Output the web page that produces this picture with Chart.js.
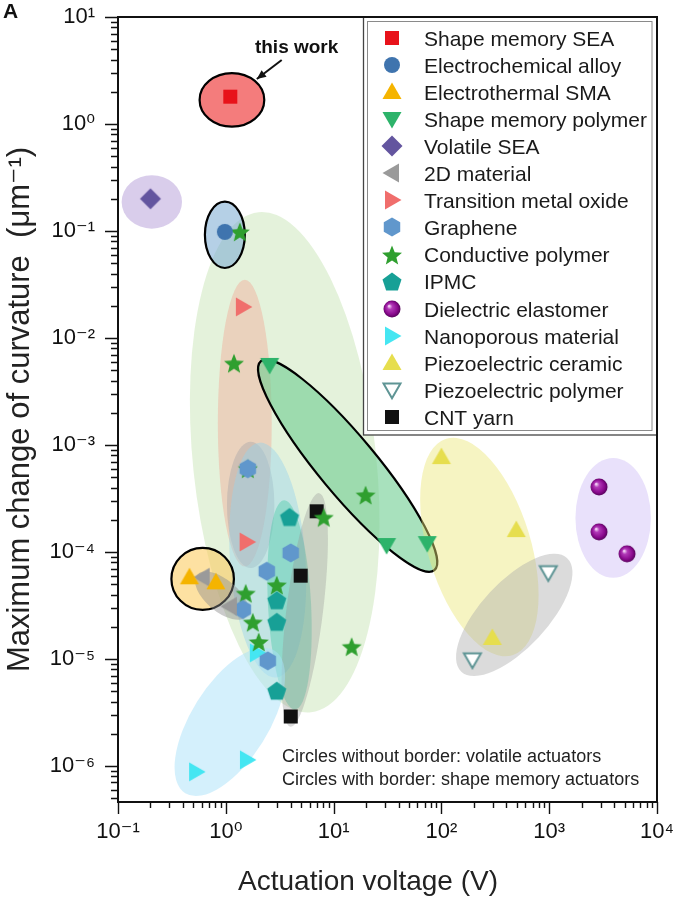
<!DOCTYPE html>
<html><head><meta charset="utf-8">
<script src="https://cdn.jsdelivr.net/npm/chart.js@4/dist/chart.umd.min.js"></script>
<style>html,body{margin:0;padding:0;background:#fff;}#wrap{width:680px;height:904px;position:relative;}</style>
</head><body><div id="wrap"><canvas id="c" width="680" height="904"></canvas></div>
<script>
// ---------- data ----------
const seriesNames = ['Shape memory SEA','Electrochemical alloy','Electrothermal SMA','Shape memory polymer','Volatile SEA','2D material','Transition metal oxide','Graphene','Conductive polymer','IPMC','Dielectric elastomer','Nanoporous material','Piezoelectric ceramic','Piezoelectric polymer','CNT yarn'];

const smSEA_x = [1.1],              smSEA_y = [1.8];
const ecAlloy_x = [0.98],           ecAlloy_y = [0.098];
const etSMA_x = [0.46, 0.81],       etSMA_y = [5.8e-5, 5.2e-5];
const smPoly_x = [2.55, 31, 74],    smPoly_y = [5.6e-3, 1.16e-4, 1.21e-4];
const volSEA_x = [0.2],             volSEA_y = [0.2];
const twoD_x = [0.61, 1.09],        twoD_y = [5.8e-5, 3.1e-5];
const tmo_x = [1.44, 1.56],         tmo_y = [0.0195, 1.24e-4];
const graphene_x = [1.6, 4.0, 2.4, 1.44, 2.45];
const graphene_y = [6.0e-4, 9.8e-5, 6.6e-5, 2.9e-5, 9.6e-6];
const condPoly_x = [1.35, 1.19, 1.6, 19.8, 8.1, 2.97, 1.53, 1.78, 2.02, 14.7];
const condPoly_y = [0.098, 5.8e-3, 6.0e-4, 3.4e-4, 2.1e-4, 4.9e-5, 4.1e-5, 2.2e-5, 1.44e-5, 1.3e-5];
const ipmc_x = [3.9, 2.97, 2.97, 2.97], ipmc_y = [2.1e-4, 3.5e-5, 2.2e-5, 5.0e-6];
const dielec_x = [2900, 2900, 5270],   dielec_y = [4.05e-4, 1.54e-4, 9.6e-5];
const nano_x = [0.53, 1.57, 1.94],     nano_y = [8.8e-7, 1.14e-6, 1.14e-5];
const pzCer_x = [100, 495, 297],       pzCer_y = [7.7e-4, 1.6e-4, 1.57e-5];
const pzPoly_x = [980, 194],           pzPoly_y = [6.4e-5, 9.8e-6];
const cnt_x = [6.96, 4.95, 4.0],       cnt_y = [2.4e-4, 6.0e-5, 2.9e-6];

const seriesX = [smSEA_x, ecAlloy_x, etSMA_x, smPoly_x, volSEA_x, twoD_x, tmo_x, graphene_x, condPoly_x, ipmc_x, dielec_x, nano_x, pzCer_x, pzPoly_x, cnt_x];
const seriesY = [smSEA_y, ecAlloy_y, etSMA_y, smPoly_y, volSEA_y, twoD_y, tmo_y, graphene_y, condPoly_y, ipmc_y, dielec_y, nano_y, pzCer_y, pzPoly_y, cnt_y];

const xTickExponents = [-1, 0, 1, 2, 3, 4];
const yTickExponents = [-6, -5, -4, -3, -2, -1, 0, 1];
const supMap = {'-':'\u207B','0':'\u2070','1':'\u00B9','2':'\u00B2','3':'\u00B3','4':'\u2074','5':'\u2075','6':'\u2076','7':'\u2077','8':'\u2078','9':'\u2079'};
const tickLabel = e => '10' + String(e).split('').map(ch => supMap[ch]).join('');

// ---------- styles ----------
const seriesShapes = ['square','circle','triangle','downTriangle','diamond','leftTriangle','rightTriangle','hexagon','star','pentagon','sphere','rightTriangle','triangle','hollowDown','square'];
const seriesColors = ['#e8121a','#3f74ae','#f5b400','#2db36a','#63559f','#9a9a9a','#f06e6c','#6097cc','#2f9f2f','#17a096','#8a0a8e','#45e6f2','#e6de4e','#5f9595','#111111'];

// shaded regions (center in data units, semi-axes in decades, screen angle in degrees)
const regions = [
  {cx:3.52, cy:6.9e-4, a:0.85, b:2.35, ang:-6,  fill:'rgba(190,225,170,0.42)', line:null},
  {cx:1.5,  cy:1.6e-3, a:0.25, b:1.34, ang:0,   fill:'rgba(240,170,150,0.45)', line:null},
  {cx:1.7,  cy:2.75e-4,a:0.22, b:0.59, ang:0,   fill:'rgba(160,160,165,0.38)', line:null},
  {cx:2.45, cy:8.4e-5, a:0.35, b:1.1,  ang:-4,  fill:'rgba(150,210,235,0.45)', line:null},
  {cx:3.9,  cy:3.2e-5, a:0.2,  b:0.98, ang:-3,  fill:'rgba(60,200,160,0.38)',  line:null},
  {cx:5.4,  cy:2.87e-5,a:0.17, b:1.1,  ang:7,   fill:'rgba(150,150,150,0.35)', line:null},
  {cx:1.09, cy:2.58e-6,a:0.78, b:0.36, ang:-58, fill:'rgba(170,225,250,0.5)',  line:null},
  {cx:13.5, cy:6.4e-4, a:1.26, b:0.27, ang:50.3,fill:'rgba(110,205,145,0.6)',  line:'#000'},
  {cx:0.61, cy:5.6e-5, a:0.29, b:0.29, ang:0,   fill:'rgba(252,205,100,0.6)',  line:'#000'},
  {cx:0.92, cy:3.9e-5, a:0.3,  b:0.15, ang:40,  fill:'rgba(140,140,140,0.45)', line:null},
  {cx:1.14, cy:1.68,   a:0.3,  b:0.25, ang:0,   fill:'rgba(240,80,80,0.75)',   line:'#000'},
  {cx:0.98, cy:0.092,  a:0.185,b:0.31, ang:0,   fill:'rgba(120,170,210,0.55)', line:'#000'},
  {cx:0.206,cy:0.187,  a:0.28, b:0.25, ang:0,   fill:'rgba(170,145,210,0.45)', line:null},
  {cx:225,  cy:1.11e-4,a:1.05, b:0.48, ang:73,  fill:'rgba(235,230,120,0.45)', line:null},
  {cx:474,  cy:2.58e-5,a:0.72, b:0.31, ang:-47, fill:'rgba(170,170,170,0.42)', line:null},
  {cx:3920, cy:2.08e-4,a:0.35, b:0.56, ang:0,   fill:'rgba(200,180,245,0.4)',  line:null}
];

const FONT = "'Liberation Sans', Arial, Helvetica, 'DejaVu Sans', sans-serif";

// ---------- marker images ----------
function polyPath(g, cx, cy, r, startDeg, n) {
  for (let k = 0; k < n; k++) {
    const t = (startDeg + k * 360 / n) * Math.PI / 180;
    const px = cx + r * Math.cos(t), py = cy + r * Math.sin(t);
    if (k === 0) g.moveTo(px, py); else g.lineTo(px, py);
  }
  g.closePath();
}
function makeMarker(shape, color) {
  const S = 26, m = S / 2;
  const c = document.createElement('canvas'); c.width = S; c.height = S;
  const g = c.getContext('2d');
  g.fillStyle = color; g.strokeStyle = color;
  g.beginPath();
  switch (shape) {
    case 'square': g.rect(m - 7, m - 7, 14, 14); g.fill(); break;
    case 'circle': g.arc(m, m, 8, 0, 2 * Math.PI); g.fill(); break;
    case 'triangle': polyPath(g, m, m + 1.5, 11, -90, 3); g.fill(); break;
    case 'downTriangle': polyPath(g, m, m - 1.5, 11, 90, 3); g.fill(); break;
    case 'leftTriangle': polyPath(g, m + 1.5, m, 11, 180, 3); g.fill(); break;
    case 'rightTriangle': polyPath(g, m - 1.5, m, 11, 0, 3); g.fill(); break;
    case 'diamond': polyPath(g, m, m, 10.5, -90, 4); g.fill(); break;
    case 'hexagon': polyPath(g, m, m, 9.5, -90, 6); g.fill(); break;
    case 'pentagon': polyPath(g, m, m + 0.5, 10, -90, 5); g.fill(); break;
    case 'star':
      for (let k = 0; k < 10; k++) {
        const r = k % 2 ? 4.6 : 10.5;
        const t = (-90 + k * 36) * Math.PI / 180;
        const px = m + r * Math.cos(t), py = m + 1 + r * Math.sin(t);
        if (k === 0) g.moveTo(px, py); else g.lineTo(px, py);
      }
      g.closePath(); g.fill(); break;
    case 'sphere': {
      const grd = g.createRadialGradient(m - 3, m - 3, 0.5, m, m, 9);
      grd.addColorStop(0, '#f4d4f6'); grd.addColorStop(0.25, '#b23ab8');
      grd.addColorStop(0.7, color); grd.addColorStop(1, '#4e0052');
      g.fillStyle = grd; g.arc(m, m, 8.5, 0, 2 * Math.PI); g.fill(); break;
    }
    case 'hollowDown':
      polyPath(g, m, m - 1.5, 9.8, 90, 3);
      g.fillStyle = '#fff'; g.fill(); g.lineWidth = 2; g.stroke(); break;
  }
  return c;
}
const markerImages = seriesShapes.map((s, i) => makeMarker(s, seriesColors[i]));

// ---------- plugins ----------
function decadePx(scale) { return Math.abs(scale.getPixelForValue(10) - scale.getPixelForValue(1)); }

const regionPlugin = {
  id: 'regions',
  beforeDatasetsDraw(chart) {
    const {ctx, chartArea: ca, scales: {x, y}} = chart;
    const dx = decadePx(x), dy = decadePx(y);
    ctx.save();
    ctx.beginPath(); ctx.rect(ca.left, ca.top, ca.right - ca.left, ca.bottom - ca.top); ctx.clip();
    regions.forEach(r => {
      const px = x.getPixelForValue(r.cx), py = y.getPixelForValue(r.cy);
      ctx.beginPath();
      ctx.ellipse(px, py, r.a * dx, r.b * dy, r.ang * Math.PI / 180, 0, 2 * Math.PI);
      ctx.fillStyle = r.fill; ctx.fill();
      if (r.line) { ctx.lineWidth = 2.2; ctx.strokeStyle = r.line; ctx.stroke(); }
    });
    ctx.restore();
  }
};

const framePlugin = {
  id: 'frame',
  afterDraw(chart) {
    const {ctx, chartArea: ca, scales: {x, y}} = chart;
    ctx.save();
    // legend box
    ctx.fillStyle = '#fff';
    ctx.fillRect(363, ca.top, ca.right - 363, 418);
    ctx.strokeStyle = '#444'; ctx.lineWidth = 1.3;
    ctx.strokeRect(363.5, ca.top, ca.right - 363.5, 418);
    ctx.strokeStyle = '#8a8a8a'; ctx.lineWidth = 1;
    ctx.strokeRect(367.5, ca.top + 4.5, ca.right - 372.5, 409);
    ctx.font = '21px ' + FONT; ctx.fillStyle = '#1a1a1a'; ctx.textAlign = 'left'; ctx.textBaseline = 'alphabetic';
    seriesNames.forEach((n, i) => {
      const cy = ca.top + 20.7 + i * 27.11;
      ctx.drawImage(markerImages[i], 392 - 13, Math.round(cy) - 13);
      ctx.fillText(n, 424, cy + 7.8);
    });
    // frame
    ctx.strokeStyle = '#111'; ctx.lineWidth = 2;
    ctx.strokeRect(ca.left, ca.top, ca.right - ca.left, ca.bottom - ca.top);
    // tick marks
    ctx.lineWidth = 1.4;
    ctx.beginPath();
    x.ticks.forEach(t => {
      const px = Math.round(x.getPixelForValue(t.value)) + 0.5;
      const len = t.major ? 12 : 6;
      ctx.moveTo(px, ca.bottom); ctx.lineTo(px, ca.bottom + len);
    });
    y.ticks.forEach(t => {
      const py = Math.round(y.getPixelForValue(t.value)) + 0.5;
      const len = t.major ? 13 : 7;
      ctx.moveTo(ca.left, py); ctx.lineTo(ca.left - len, py);
    });
    ctx.stroke();
    // annotations
    ctx.fillStyle = '#111';
    ctx.font = 'bold 21px ' + FONT; ctx.textAlign = 'left';
    ctx.fillText('A', 3, 18);
    const tx = x.getPixelForValue(4.54), ty = y.getPixelForValue(5.25);
    ctx.font = 'bold 19px ' + FONT; ctx.textAlign = 'center';
    ctx.fillText('this work', tx, ty + 6);
    const ax0 = x.getPixelForValue(3.3), ay0 = y.getPixelForValue(3.96);
    const ax1 = x.getPixelForValue(1.94), ay1 = y.getPixelForValue(2.63);
    ctx.lineWidth = 2; ctx.beginPath(); ctx.moveTo(ax0, ay0); ctx.lineTo(ax1, ay1); ctx.stroke();
    const ang = Math.atan2(ay1 - ay0, ax1 - ax0);
    ctx.beginPath();
    ctx.moveTo(ax1, ay1);
    ctx.lineTo(ax1 - 10 * Math.cos(ang - 0.42), ay1 - 10 * Math.sin(ang - 0.42));
    ctx.lineTo(ax1 - 10 * Math.cos(ang + 0.42), ay1 - 10 * Math.sin(ang + 0.42));
    ctx.closePath(); ctx.fill();
    ctx.font = '18px ' + FONT; ctx.textAlign = 'left'; ctx.fillStyle = '#222';
    ctx.fillText('Circles without border: volatile actuators', 282, ca.bottom - 40);
    ctx.fillText('Circles with border: shape memory actuators', 282, ca.bottom - 17);
    ctx.restore();
  }
};

function withMinors(scale, exps) {
  const ticks = [];
  const lo = exps[0] - 1, hi = exps[exps.length - 1];
  for (let e = lo; e <= hi; e++) {
    for (let s = 1; s <= 9; s++) {
      const v = s * Math.pow(10, e);
      if (v < scale.min * 0.999 || v > scale.max * 1.001) continue;
      ticks.push({value: v, major: s === 1, exp: e});
    }
  }
  return ticks;
}

const datasets = seriesNames.map((name, i) => ({
  label: name,
  data: seriesX[i].map((v, j) => ({x: v, y: seriesY[i][j]})),
  pointStyle: markerImages[i],
  pointRadius: 10, pointHoverRadius: 10,
  backgroundColor: seriesColors[i], borderColor: seriesColors[i],
  showLine: false
}));

new Chart(document.getElementById('c'), {
  type: 'scatter',
  data: {datasets},
  options: {
    responsive: false, animation: false, devicePixelRatio: 1,
    layout: {padding: {top: 17, right: 23, left: 0, bottom: 0}},
    plugins: {legend: {display: false}, tooltip: {enabled: false}},
    events: [],
    scales: {
      x: {
        type: 'logarithmic', position: 'bottom', min: 0.1, max: 1e4,
        afterBuildTicks: s => { s.ticks = withMinors(s, xTickExponents); },
        afterFit: s => { s.height = 102; s.paddingLeft = 0; s.paddingRight = 0; },
        grid: {display: false, drawTicks: false}, border: {display: false},
        ticks: {padding: 17, autoSkip: false, maxRotation: 0, color: '#111',
          font: {size: 22, family: FONT},
          callback: function(v, i, ts) { const t = ts[i]; return t.major ? tickLabel(t.exp) : ''; }},
        title: {display: true, text: 'Actuation voltage (V)\u00A0\u00A0\u00A0\u00A0\u00A0', color: '#222',
          font: {size: 28, family: FONT}, padding: {top: 0, bottom: 5}}
      },
      y: {
        type: 'logarithmic', position: 'left', min: 4.6e-7, max: 10,
        afterBuildTicks: s => { s.ticks = withMinors(s, yTickExponents); },
        afterFit: s => { s.width = 118; s.paddingTop = 0; s.paddingBottom = 0; },
        grid: {display: false, drawTicks: false}, border: {display: false},
        ticks: {padding: 23, autoSkip: false, color: '#111',
          font: {size: 22, family: FONT},
          callback: function(v, i, ts) { const t = ts[i]; return t.major ? tickLabel(t.exp) : ''; }},
        title: {display: true, text: 'Maximum change of curvature  (\u03BCm\u207B\u00B9)', color: '#222',
          font: {size: 31, family: FONT}, padding: {top: 2, bottom: 0}}
      }
    }
  },
  plugins: [regionPlugin, framePlugin]
});
</script></body></html>
